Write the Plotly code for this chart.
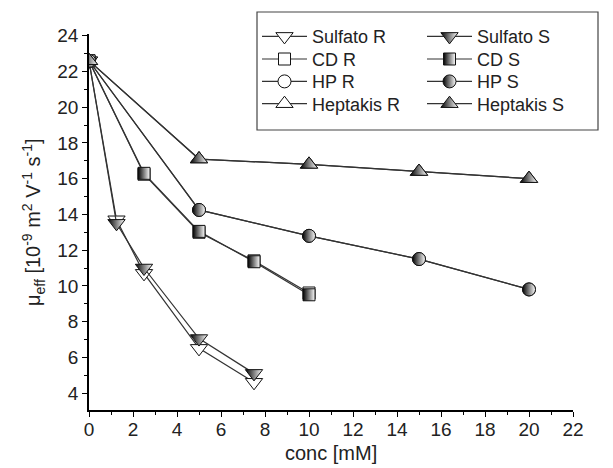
import plotly.graph_objects as go

conc_sulfato = [0, 1.25, 2.5, 5, 7.5]
sulfato_R = [22.6, 13.7, 10.7, 6.5, 4.6]
sulfato_S = [22.6, 13.5, 11.0, 7.05, 5.1]

conc_cd = [0, 2.5, 5, 7.5, 10]
cd_R = [22.6, 16.25, 13.0, 11.4, 9.6]
cd_S = [22.6, 16.3, 13.05, 11.35, 9.5]

conc_long = [0, 5, 10, 15, 20]
hp_R = [22.6, 14.25, 12.8, 11.5, 9.8]
hp_S = [22.6, 14.25, 12.8, 11.5, 9.8]
hept_R = [22.6, 17.1, 16.8, 16.4, 16.0]
hept_S = [22.6, 17.1, 16.8, 16.4, 16.0]

x_ticks = list(range(0, 23, 2))
y_ticks = list(range(4, 25, 2))

x_title = "conc [mM]"
y_title = "μ<sub>eff</sub> [10<sup>-9</sup> m<sup>2</sup> V<sup>-1</sup> s<sup>-1</sup>]"

series = [
    ("Sulfato R", conc_sulfato, sulfato_R, "triangle-down", False),
    ("Sulfato S", conc_sulfato, sulfato_S, "triangle-down", True),
    ("CD R", conc_cd, cd_R, "square", False),
    ("CD S", conc_cd, cd_S, "square", True),
    ("HP R", conc_long, hp_R, "circle", False),
    ("HP S", conc_long, hp_S, "circle", True),
    ("Heptakis R", conc_long, hept_R, "triangle-up", False),
    ("Heptakis S", conc_long, hept_S, "triangle-up", True),
]
sizes = {"triangle-down": 15, "triangle-up": 15, "square": 12, "circle": 13}

FONT = "Liberation Sans, Arial"
W, H = 613, 468
L, R, T, B = 89, 40, 34, 58
PW, PH = W - L - R, H - T - B

# legend layout (pixels in the figure)
leg_rows = [36.7, 59.3, 81.7, 104.0]
leg_cols = [257, 422]
box = dict(left=257, right=598, top=12, bottom=130)

fig = go.Figure()
legend_layouts = {}
for i, (name, xs, ys, sym, half) in enumerate(series):
    marker = dict(symbol=sym, size=sizes[sym], color="black" if half else "white",
                  line=dict(color="#111", width=1))
    if half:
        marker["gradient"] = dict(type="horizontal", color="white")
    key = "legend" if i == 0 else f"legend{i + 1}"
    fig.add_trace(go.Scatter(
        x=xs, y=ys, name=name, mode="lines+markers",
        line=dict(color="#333333", width=1.2),
        marker=marker, legend=key,
    ))
    row, col = i // 2, i % 2
    legend_layouts[key] = dict(
        xref="container", yref="container",
        x=leg_cols[col] / W, y=1 - leg_rows[row] / H,
        xanchor="left", yanchor="middle",
        bgcolor="rgba(0,0,0,0)", borderwidth=0,
        font=dict(family=FONT, size=18, color="#222"),
        itemwidth=45,
    )

axis_common = dict(
    showline=True, linecolor="black", linewidth=1.5, mirror=False,
    ticks="outside", ticklen=5, tickwidth=1.2, tickcolor="black",
    showgrid=False, zeroline=False, automargin=False,
    tickfont=dict(family=FONT, size=19, color="#222"),
    minor=dict(ticks="outside", ticklen=3, tickwidth=1, tickcolor="black", dtick=1),
)

fig.update_xaxes(range=[0, 22], tickvals=x_ticks, ticklabelstandoff=-4, **axis_common)
fig.update_yaxes(range=[3.05, 24.1], tickvals=y_ticks, **axis_common)

fig.add_annotation(
    text=x_title, showarrow=False,
    xref="paper", yref="paper", x=0.5, y=-(453 - (H - B)) / PH,
    xanchor="center", yanchor="middle",
    font=dict(family=FONT, size=20, color="#222"),
)
fig.add_annotation(
    text=y_title, textangle=-90, showarrow=False,
    xref="paper", yref="paper", x=(33 - L) / PW, y=0.5,
    xanchor="center", yanchor="middle",
    font=dict(family=FONT, size=20, color="#222"),
)

fig.add_shape(
    type="rect", xref="paper", yref="paper",
    x0=(box["left"] - L) / PW, x1=(box["right"] - L) / PW,
    y0=(H - B - box["bottom"]) / PH, y1=(H - B - box["top"]) / PH,
    line=dict(color="#444", width=1.2), fillcolor="white", layer="above",
)

fig.update_layout(
    width=W, height=H,
    margin=dict(l=L, r=R, t=T, b=B, autoexpand=False),
    plot_bgcolor="white", paper_bgcolor="white",
    showlegend=True,
    **legend_layouts,
)

fig.write_html("out.html")
